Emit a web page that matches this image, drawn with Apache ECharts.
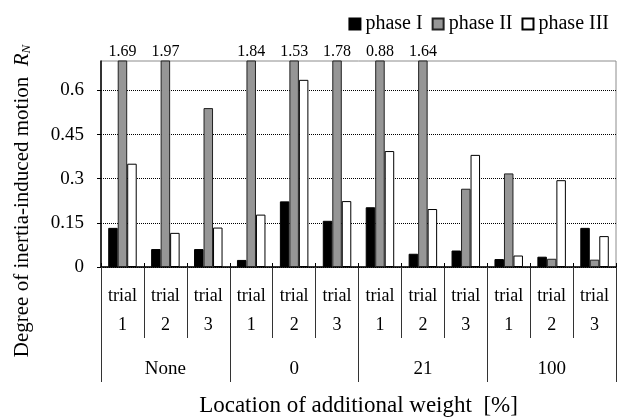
<!DOCTYPE html>
<html>
<head>
<meta charset="utf-8">
<script src="https://cdn.jsdelivr.net/npm/echarts@6/dist/echarts.min.js"></script>
<style>
    html, body { margin: 0; padding: 0; background: #fff; }
    #chart { width: 618px; height: 418px; }
</style>
</head>
<body>
<div id="chart"></div>
<script>
    // trial labels (one per bar group) and the weight locations below them
    var trials = ['trial\n1', 'trial\n2', 'trial\n3', 'trial\n1', 'trial\n2', 'trial\n3',
                  'trial\n1', 'trial\n2', 'trial\n3', 'trial\n1', 'trial\n2', 'trial\n3'];
    var locations = ['None', '0', '21', '100'];

    var phase1 = [0.133, 0.061, 0.061, 0.024, 0.223, 0.157, 0.203, 0.045, 0.056, 0.027, 0.035, 0.133];
    var phase2 = [1.69, 1.97, 0.54, 1.84, 1.53, 1.78, 0.88, 1.64, 0.266, 0.318, 0.028, 0.025];
    var phase3 = [0.351, 0.116, 0.134, 0.178, 0.636, 0.224, 0.394, 0.197, 0.381, 0.039, 0.295, 0.105];

    var yMax = 0.7;
    var font = '"Liberation Serif", "Times New Roman", serif';

    var myChart = echarts.init(document.getElementById('chart'));

    var option = {
        backgroundColor: '#fff',
        animation: false,
        textStyle: { fontFamily: font, color: '#000' },
        legend: {
            right: 4,
            top: 9,
            itemWidth: 11,
            itemHeight: 11,
            itemGap: 9,
            icon: 'rect',
            textStyle: { fontFamily: font, fontSize: 20, color: '#000' },
            data: ['phase I', 'phase II', 'phase III']
        },
        grid: {
            left: 101,
            right: 2,
            top: 61,
            bottom: 151,
            show: true,
            borderColor: '#8c8c8c',
            borderWidth: 1
        },
        xAxis: [
            {
                type: 'category',
                data: trials,
                position: 'bottom',
                axisLine: { show: true, lineStyle: { color: '#000', width: 1.5 } },
                axisTick: { show: true, length: 71, lineStyle: { color: '#333' } },
                axisLabel: {
                    margin: 15,
                    lineHeight: 29,
                    fontFamily: font,
                    fontSize: 18,
                    color: '#000'
                }
            },
            {
                type: 'category',
                data: locations,
                position: 'bottom',
                axisLine: { show: false },
                axisTick: { show: true, length: 115, lineStyle: { color: '#333' } },
                axisLabel: {
                    margin: 93,
                    fontFamily: font,
                    fontSize: 19,
                    color: '#000'
                },
                name: 'Location of additional weight  [%]',
                nameLocation: 'middle',
                nameGap: 127,
                nameTextStyle: { fontFamily: font, fontSize: 23, color: '#000' }
            },
            {
                type: 'category',
                data: trials,
                position: 'bottom',
                axisLine: { show: false },
                axisTick: { show: true, inside: true, length: 4, lineStyle: { color: '#000' } },
                axisLabel: { show: false }
            }
        ],
        yAxis: {
            type: 'value',
            min: 0,
            max: yMax,
            interval: 0.15,
            axisLine: { show: true, lineStyle: { color: '#000', width: 1.5 } },
            axisTick: { show: true, length: 4, lineStyle: { color: '#000' } },
            axisLabel: {
                margin: 17,
                showMaxLabel: false,
                fontFamily: font,
                fontSize: 19,
                color: '#000'
            },
            splitLine: {
                showMaxLine: false,
                lineStyle: { color: '#000', type: 'dotted', width: 1 }
            }
        },
        graphic: [
            {
                type: 'text',
                x: 22,
                y: 201,
                rotation: Math.PI / 2,
                style: {
                    text: 'Degree of inertia-induced motion  {r|R}{n|N}',
                    fontFamily: font,
                    fontSize: 21,
                    fill: '#000',
                    align: 'center',
                    verticalAlign: 'middle',
                    rich: {
                        r: { fontFamily: font, fontSize: 21, fontStyle: 'italic', fill: '#000' },
                        n: { fontFamily: font, fontSize: 13, fontStyle: 'italic', fill: '#000', padding: [9, 0, 0, 0] }
                    }
                }
            }
        ],
        series: [
            {
                name: 'phase I',
                type: 'bar',
                barWidth: 9.5,
                barGap: '0%',
                itemStyle: { color: '#000', borderColor: '#000', borderWidth: 1 },
                data: phase1
            },
            {
                name: 'phase II',
                type: 'bar',
                barWidth: 9.5,
                barGap: '0%',
                itemStyle: { color: '#969696', borderColor: '#222', borderWidth: 1 },
                label: {
                    show: true,
                    position: 'top',
                    distance: 1,
                    fontFamily: font,
                    fontSize: 16,
                    color: '#000',
                    formatter: function (p) {
                        return p.value > yMax ? p.value.toFixed(2) : '';
                    }
                },
                data: phase2
            },
            {
                name: 'phase III',
                type: 'bar',
                barWidth: 9.5,
                barGap: '0%',
                itemStyle: { color: '#fff', borderColor: '#000', borderWidth: 1 },
                data: phase3
            }
        ]
    };

    myChart.setOption(option);
</script>
</body>
</html>
